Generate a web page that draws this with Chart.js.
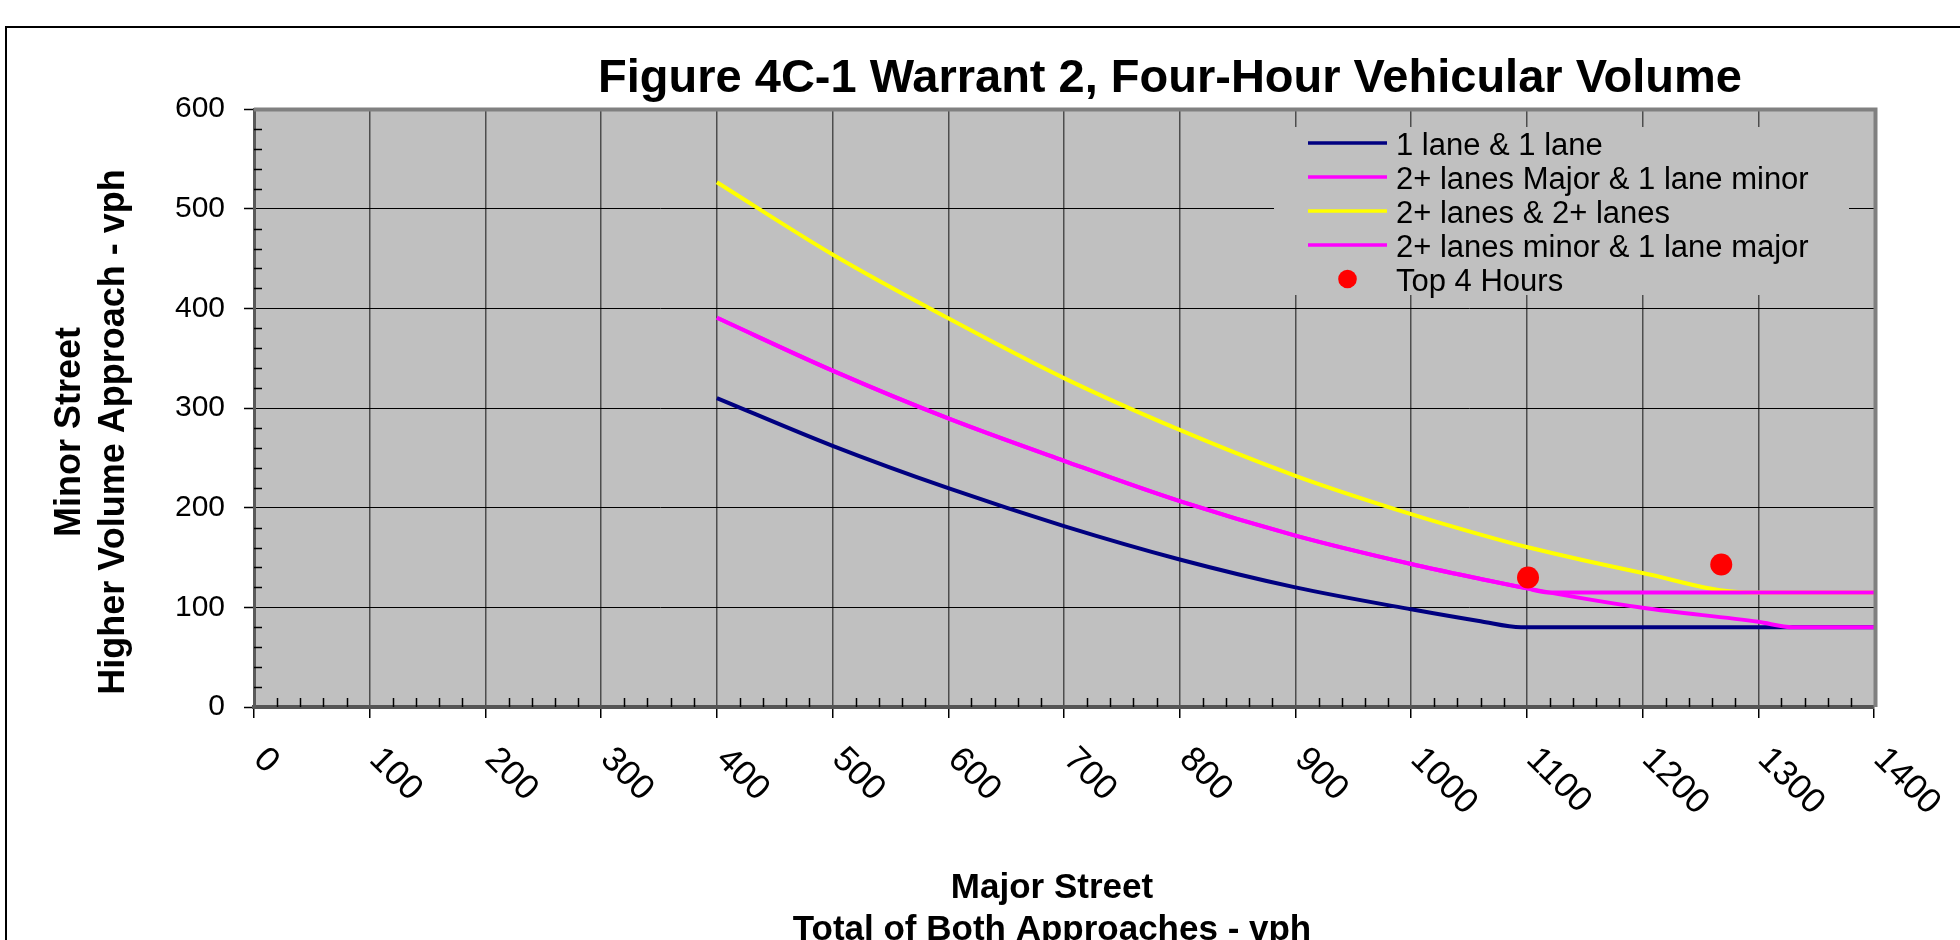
<!DOCTYPE html>
<html>
<head>
<meta charset="utf-8">
<script src="https://cdn.jsdelivr.net/npm/chart.js@4.4.0/dist/chart.umd.min.js"></script>
<style>
html,body{margin:0;padding:0;background:#fff;overflow:hidden}
#wrap{width:1960px;height:940px;position:relative}
</style>
</head>
<body>
<div id="wrap"><canvas id="c" width="1960" height="940"></canvas></div>
<script>
// ---------- text ----------
const chartTitle = 'Figure 4C-1 Warrant 2, Four-Hour Vehicular Volume';
const xAxisTitle = ['Major Street', 'Total of Both Approaches - vph'];
const yAxisTitle = ['Minor Street', 'Higher Volume Approach - vph'];
const seriesNames = [
  '1 lane & 1 lane',
  '2+ lanes Major & 1 lane minor',
  '2+ lanes & 2+ lanes',
  '2+ lanes minor & 1 lane major',
  'Top 4 Hours'
];

// ---------- ticks ----------
const xTickValues = [0,100,200,300,400,500,600,700,800,900,1000,1100,1200,1300,1400];
const yTickValues = [0,100,200,300,400,500,600];

// ---------- series ----------
const oneLaneX   = [400, 500, 600, 700, 800, 900, 1000, 1060, 1095, 1400];
const oneLaneY   = [310, 262, 219.5, 181.5, 148, 120, 98, 86, 80, 80];

const majorTwoX  = [400, 500, 600, 700, 800, 900, 1000, 1060, 1100, 1200, 1300, 1330, 1400];
const majorTwoY  = [390.5, 337.5, 289.5, 247, 206.5, 172, 143.5, 128.5, 119, 99.5, 85.5, 80, 80];

const bothTwoX   = [400, 500, 600, 700, 800, 900, 1000, 1060, 1100, 1200, 1290, 1400];
const bothTwoY   = [526.5, 454, 390, 330, 278, 232, 193.5, 173, 160.5, 134.5, 115, 115];

const minorTwoX  = [400, 500, 600, 700, 800, 900, 1000, 1060, 1100, 1118, 1400];
const minorTwoY  = [390.5, 337.5, 289.5, 247, 206.5, 172, 143.5, 128.5, 119, 115, 115];

const topHoursX  = [1101, 1268];
const topHoursY  = [130, 143];

const pts = (xs, ys) => xs.map((x, i) => ({x: x, y: ys[i]}));

const FONT = '"Liberation Sans", Arial, sans-serif';
Chart.defaults.font.family = FONT;
Chart.defaults.color = '#000';

const lineDs = (label, xs, ys, color, order) => ({
  label: label,
  data: pts(xs, ys),
  showLine: true,
  borderColor: color,
  backgroundColor: color,
  borderWidth: 4,
  pointRadius: 0,
  pointHoverRadius: 0,
  cubicInterpolationMode: 'monotone',
  order: order
});

const decor = {
  id: 'decor',
  beforeDraw(chart) {
    const ctx = chart.ctx, a = chart.chartArea;
    ctx.save();
    ctx.fillStyle = '#fff';
    ctx.fillRect(0, 0, chart.width, chart.height);
    // outer frame
    ctx.strokeStyle = '#000';
    ctx.lineWidth = 2;
    ctx.strokeRect(6, 27, 2100, 1100);
    // plot background
    ctx.fillStyle = '#C0C0C0';
    ctx.fillRect(a.left, a.top, a.right - a.left, a.bottom - a.top);
    ctx.restore();
  },
  beforeDatasetsDraw(chart) {
    const ctx = chart.ctx, a = chart.chartArea;
    const xs = chart.scales.x, ys = chart.scales.y;
    ctx.save();
    ctx.strokeStyle = '#000';
    ctx.lineWidth = 1.5;
    ctx.beginPath();
    for (let v = 20; v < 1400; v += 20) {
      if (v % 100 === 0) continue;
      const px = Math.round(xs.getPixelForValue(v)) + 0.5;
      ctx.moveTo(px, a.bottom);
      ctx.lineTo(px, a.bottom - 9);
    }
    for (let v = 20; v < 600; v += 20) {
      if (v % 100 === 0) continue;
      const py = Math.round(ys.getPixelForValue(v)) + 0.5;
      ctx.moveTo(a.left, py);
      ctx.lineTo(a.left + 8, py);
    }
    ctx.stroke();
    ctx.restore();
  },
  afterDatasetsDraw(chart) {
    const ctx = chart.ctx, a = chart.chartArea;
    ctx.save();
    // top and right frame of the plot
    ctx.strokeStyle = '#808080';
    ctx.lineWidth = 4;
    ctx.beginPath();
    ctx.moveTo(a.left, a.top + 0.5);
    ctx.lineTo(a.right + 1.5, a.top + 0.5);
    ctx.lineTo(a.right + 1.5, a.bottom);
    ctx.stroke();

    // legend
    const lx = 1274, ly = 127, lw = 575, lh = 168;
    ctx.fillStyle = '#C0C0C0';
    ctx.fillRect(lx, ly, lw, lh);
    ctx.font = '31px ' + FONT;
    ctx.textAlign = 'left';
    ctx.textBaseline = 'alphabetic';
    chart.data.datasets.forEach((ds, i) => {
      const cy = 143 + i * 34;
      if (ds.showLine) {
        ctx.strokeStyle = ds.borderColor;
        ctx.lineWidth = 3.5;
        ctx.beginPath();
        ctx.moveTo(1308, cy);
        ctx.lineTo(1387, cy);
        ctx.stroke();
      } else {
        ctx.fillStyle = ds.backgroundColor;
        ctx.beginPath();
        ctx.arc(1347.5, cy, 9.3, 0, Math.PI * 2);
        ctx.fill();
      }
      ctx.fillStyle = '#000';
      ctx.fillText(ds.label, 1396, cy + 11.5);
    });
    ctx.restore();
  },
  afterDraw(chart) {
    const ctx = chart.ctx, a = chart.chartArea;
    const xs = chart.scales.x;
    ctx.save();
    ctx.fillStyle = '#000';
    // main title
    ctx.font = 'bold 47px ' + FONT;
    ctx.textAlign = 'center';
    ctx.textBaseline = 'alphabetic';
    ctx.fillText(chartTitle, 1170, 92);
    // x axis title
    ctx.font = 'bold 35px ' + FONT;
    ctx.fillText(xAxisTitle[0], 1052, 898);
    ctx.fillText(xAxisTitle[1], 1052, 940);
    // y axis title (rotated)
    ctx.font = 'bold 36px ' + FONT;
    [[80, yAxisTitle[0]], [124, yAxisTitle[1]]].forEach(([bx, t]) => {
      ctx.save();
      ctx.translate(bx, 432);
      ctx.rotate(-Math.PI / 2);
      ctx.fillText(t, 0, 0);
      ctx.restore();
    });
    // rotated x tick labels
    ctx.font = '35px ' + FONT;
    ctx.textAlign = 'left';
    ctx.textBaseline = 'middle';
    xTickValues.forEach(v => {
      const px = xs.getPixelForValue(v);
      ctx.save();
      ctx.translate(px + 5, a.bottom + 47);
      ctx.rotate(Math.PI / 4);
      ctx.fillText(String(v), 0, 0);
      ctx.restore();
    });
    ctx.restore();
  }
};

new Chart(document.getElementById('c'), {
  type: 'scatter',
  data: {
    datasets: [
      lineDs(seriesNames[0], oneLaneX, oneLaneY, '#000080', 4),
      lineDs(seriesNames[1], majorTwoX, majorTwoY, '#FF00FF', 1),
      lineDs(seriesNames[2], bothTwoX, bothTwoY, '#FFFF00', 3),
      lineDs(seriesNames[3], minorTwoX, minorTwoY, '#FF00FF', 2),
      {
        label: seriesNames[4],
        data: pts(topHoursX, topHoursY),
        showLine: false,
        pointRadius: 11,
        pointHoverRadius: 11,
        pointBorderWidth: 0,
        backgroundColor: '#FF0000',
        borderColor: '#FF0000',
        order: 0
      }
    ]
  },
  options: {
    responsive: false,
    animation: false,
    devicePixelRatio: 1,
    events: [],
    layout: { padding: { left: 0, top: 109, right: 86, bottom: 0 } },
    plugins: {
      legend: { display: false },
      title: { display: false },
      tooltip: { enabled: false }
    },
    scales: {
      x: {
        type: 'linear',
        position: 'bottom',
        min: 0,
        max: 1400,
        afterBuildTicks: s => { s.ticks = xTickValues.map(v => ({value: v})); },
        ticks: { display: false },
        grid: {
          color: c => (c.tick && (c.tick.value === 0 || c.tick.value === 1400)) ? 'rgba(0,0,0,0)' : '#4d4d4d',
          lineWidth: 1.5,
          drawTicks: true,
          tickLength: 11,
          tickColor: '#000',
          tickWidth: 1.5
        },
        border: { display: true, color: '#555555', width: 4 },
        title: { display: false },
        afterFit: s => { s.height = 233; }
      },
      y: {
        type: 'linear',
        min: 0,
        max: 600,
        afterBuildTicks: s => { s.ticks = yTickValues.map(v => ({value: v})); },
        ticks: { color: '#000', font: { family: FONT, size: 30 }, padding: 19 },
        grid: {
          color: c => (c.tick && (c.tick.value === 0 || c.tick.value === 600)) ? 'rgba(0,0,0,0)' : '#000',
          lineWidth: 1,
          drawTicks: true,
          tickLength: 10,
          tickColor: '#000',
          tickWidth: 1.5
        },
        border: { display: true, color: '#5a5a5a', width: 3 },
        title: { display: false },
        afterFit: s => { s.width = 254; }
      }
    }
  },
  plugins: [decor]
});
</script>
</body>
</html>
